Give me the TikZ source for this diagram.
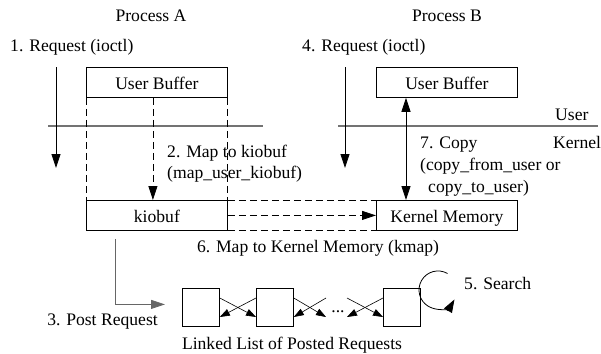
\documentclass[tikz,border=0pt]{standalone}
\usepackage{fontspec}
\setmainfont{Liberation Serif}
\usetikzlibrary{arrows.meta,calc}
\begin{document}
\begin{tikzpicture}[x=1pt,y=-1pt,
  font=\fontsize{17.6}{21}\selectfont,
  box/.style={draw, line width=0.8pt, minimum width=141pt, minimum height=30pt, inner sep=0pt, text height=15pt, text depth=0pt, anchor=north west},
  lbox/.style={draw, line width=0.8pt, minimum width=37pt, minimum height=38pt, inner sep=0pt, anchor=north west},
  lbl/.style={inner sep=0pt, anchor=base west},
  lblc/.style={inner sep=0pt, anchor=base},
  conn/.style={line width=0.8pt},
  arr/.style={conn, -{Triangle[length=14pt,width=9pt]}},
  dsh/.style={conn, dash pattern=on 7pt off 4pt},
  xarr/.style={line width=0.6pt, -{Triangle[length=10pt,width=7pt]}},
  sepline/.style={line width=1.1pt, black!55}
]
\useasboundingbox (0,0) rectangle (601,353);

% boxes
\node[box] (ubA) at (86,67) {User Buffer};
\node[box] (ubB) at (376,67) {User Buffer};
\node[box] (kio) at (86,200) {kiobuf};
\node[box] (km) at (376,200) {Kernel Memory};
\node[lbox] (b1) at (182,288) {};
\node[lbox] (b2) at (256,288) {};
\node[lbox] (b3) at (383,288) {};

% labels
\node[lblc] (pa) at (151,22) {Process A};
\node[lblc] (pb) at (447,22) {Process B};
\node[lbl] (rq1) at (10,52) {1. Request (ioctl)};
\node[lbl] (rq4) at (302,52) {4. Request (ioctl)};
\node[lbl] (usr) at (555,120) {User};
\node[lbl] (krn) at (553,148) {Kernel};
\node[lbl] (cp1) at (420,148.5) {7. Copy};
\node[lbl] (cp2) at (420,170) {(copy\_from\_user or};
\node[lbl] (cp3) at (428,192) {copy\_to\_user)};
\node[lbl] (mp1) at (167,157) {2. Map to kiobuf};
\node[lbl] (mp2) at (167,178.5) {(map\_user\_kiobuf)};
\node[lblc] (km6) at (318,252) {6. Map to Kernel Memory (kmap)};
\node[lblc] (pr3) at (102.5,325) {3. Post Request};
\node[lblc] (ll) at (292,349) {Linked List of Posted Requests};
\node[lbl] (s5) at (464,289) {5. Search};
\node[lblc] (dots) at (338,312) {...};

% free-end coordinates
\coordinate (r1s) at (56,67);
\coordinate (r1e) at (56,168);
\coordinate (r4s) at (345,67);
\coordinate (r4e) at (345,168);
\coordinate (sAl) at (48,126);
\coordinate (sAr) at (263,126);
\coordinate (sBl) at (338,126);
\coordinate (sBr) at (598,126);
\coordinate (cpT) at ($(ubB.south west)+(30,0)$);
\coordinate (cpB) at ($(km.north west)+(30,0)$);
\coordinate (mpT) at ($(ubA.south)+(-4,0)$);
\coordinate (mpB) at ($(kio.north)+(-4,0)$);
\coordinate (pst) at ($(kio.south west)+(29,8)$);
\coordinate (pen) at ($(b1.west)+(-17,-3)$);
\coordinate (b1t) at ($(b1.north east)+(0,10)$);
\coordinate (b1b) at ($(b1.north east)+(0,29)$);
\coordinate (b2lt) at ($(b2.north west)+(0,10)$);
\coordinate (b2lb) at ($(b2.north west)+(0,29)$);
\coordinate (b2rt) at ($(b2.north east)+(0,10)$);
\coordinate (b2rb) at ($(b2.north east)+(0,29)$);
\coordinate (m1t) at (326,298);
\coordinate (m1b) at (326,317);
\coordinate (m2t) at (347,298);
\coordinate (m2b) at (347,317);
\coordinate (b3t) at ($(b3.north west)+(0,10)$);
\coordinate (b3b) at ($(b3.north west)+(0,29)$);
\coordinate (lp) at (447.5,273.5);

% user/kernel separators
\draw[sepline] (sAl) -- (sAr);
\draw[sepline] (sBl) -- (sBr);

% request arrows
\draw[arr] (r1s) -- (r1e);
\draw[arr] (r4s) -- (r4e);

% mapping (dashed)
\draw[dsh] (ubA.south west) -- (kio.north west);
\draw[dsh] (ubA.south east) -- (kio.north east);
\draw[dsh, -{Triangle[length=14pt,width=9pt]}] (mpT) -- (mpB);
\draw[dsh] (kio.north east) -- (km.north west);
\draw[dsh, -{Triangle[length=14pt,width=9pt]}] (kio.east) -- (km.west);
\draw[dsh] (kio.south east) -- (km.south west);

% copy arrow
\draw[conn, {Triangle[length=14pt,width=9pt]}-{Triangle[length=14pt,width=9pt]}] (cpT) -- (cpB);

% post request
\draw[arr, black!60] (pst) |- (pen);

% linked list arrows
\draw[xarr] (b1t) -- (b2lb);
\draw[xarr] (b2lt) -- (b1b);
\draw[xarr] (b2rt) -- (m1b);
\draw[xarr] (m1t) -- (b2rb);
\draw[xarr] (m2t) -- (b3b);
\draw[xarr] (b3t) -- (m2b);

% search loop
\draw[conn, -{Triangle[length=13pt,width=9pt]}] (lp) arc[start angle=60, end angle=330, radius=19pt];
\end{tikzpicture}
\end{document}
